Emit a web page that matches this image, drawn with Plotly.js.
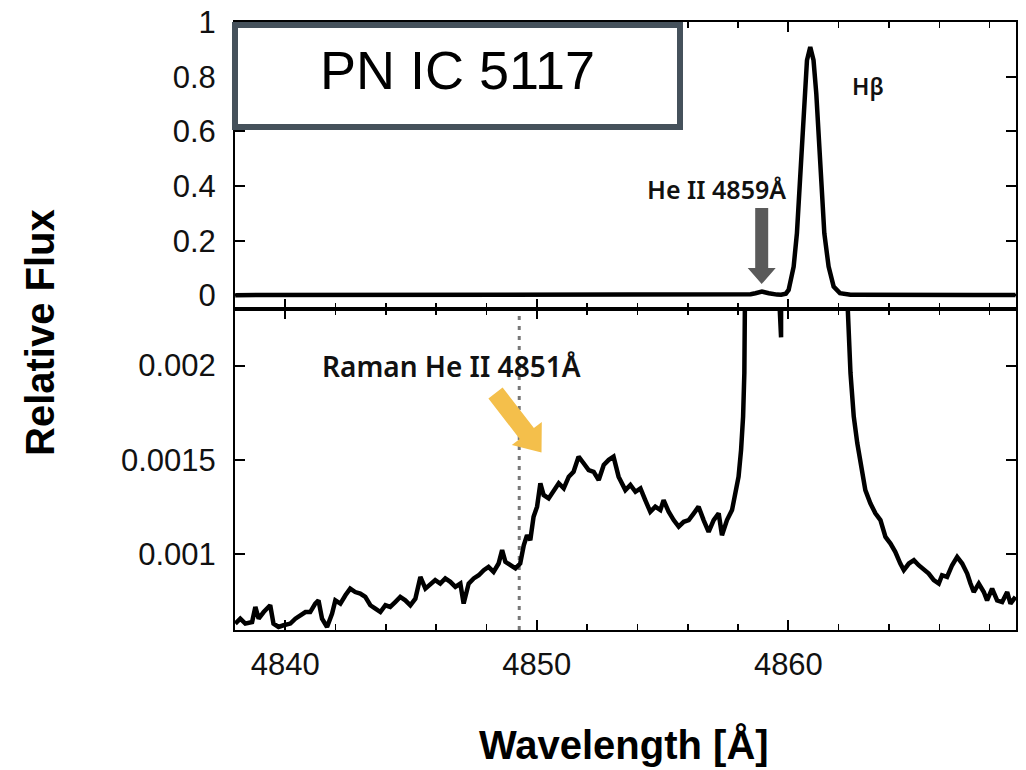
<!DOCTYPE html>
<html>
<head>
<meta charset="utf-8">
<script src="https://cdn.plot.ly/plotly-3.0.1.min.js"></script>
<style>html,body{margin:0;padding:0;background:#fff;}#chart{width:1026px;height:770px;}</style>
</head>
<body>
<div id="chart"></div>
<script>
// Wavelength [Å]
const wavelength = [
4838.01,4838.21,4838.41,4838.68,4838.81,4838.94,4839.14,4839.40,4839.53,4839.73,4839.93,
4840.20,4840.40,4840.60,4840.80,4840.99,4841.19,4841.32,4841.46,4841.66,4841.86,4841.99,
4842.19,4842.39,4842.58,4842.78,4842.98,4843.18,4843.38,4843.58,4843.78,4843.98,4844.17,
4844.37,4844.57,4844.77,4844.97,4845.17,4845.37,4845.57,4845.77,4845.96,4846.16,4846.36,
4846.56,4846.76,4846.96,4847.09,4847.29,4847.49,4847.69,4847.89,4848.08,4848.28,4848.48,
4848.62,4848.75,4848.95,4849.15,4849.34,4849.48,4849.61,4849.74,4849.87,4850.01,4850.14,
4850.27,4850.47,4850.67,4850.87,4851.07,4851.27,4851.46,4851.66,4851.86,4852.06,4852.26,
4852.46,4852.66,4852.86,4853.05,4853.25,4853.52,4853.72,4853.92,4854.12,4854.31,4854.51,
4854.71,4854.91,4855.04,4855.24,4855.44,4855.64,4855.84,4856.04,4856.24,4856.43,4856.63,
4856.83,4857.03,4857.23,4857.36,4857.56,4857.76,4857.89,4858.02,4858.12,4858.20,4858.25,
4858.30,4858.36,4858.50,4858.69,4858.95,4859.22,4859.42,4859.55,4859.71,4859.81,4859.90,
4860.01,4860.21,4860.34,4860.45,4860.54,4860.64,4860.74,4860.87,4861.00,4861.11,4861.20,
4861.30,4861.43,4861.60,4861.80,4862.05,4862.20,4862.33,4862.47,4862.60,4862.74,4862.86,
4863.06,4863.26,4863.46,4863.66,4863.86,4864.06,4864.25,4864.45,4864.59,4864.79,4864.99,
4865.18,4865.38,4865.58,4865.78,4865.98,4866.11,4866.31,4866.51,4866.71,4866.91,4867.11,
4867.24,4867.37,4867.57,4867.77,4867.90,4868.10,4868.30,4868.50,4868.70,4868.83,4869.03
];
// Relative flux
const flux = [
0.000634,0.000660,0.000634,0.000642,0.000722,0.000660,0.000695,0.000731,0.000634,0.000616,0.000625,
0.000634,0.000660,0.000678,0.000695,0.000695,0.000740,0.000757,0.000660,0.000616,0.000687,0.000757,
0.000740,0.000784,0.000819,0.000801,0.000793,0.000775,0.000731,0.000713,0.000695,0.000731,0.000722,
0.000748,0.000775,0.000757,0.000731,0.000766,0.000881,0.000819,0.000846,0.000864,0.000846,0.000873,
0.000855,0.000828,0.000846,0.000740,0.000846,0.000873,0.000890,0.000917,0.000934,0.000908,0.000952,
0.001023,0.000961,0.000943,0.000926,0.000952,0.001049,0.001102,0.001076,0.001200,0.001253,0.001377,
0.001315,0.001297,0.001341,0.001377,0.001350,0.001412,0.001438,0.001518,0.001483,0.001447,0.001438,
0.001394,0.001474,0.001501,0.001518,0.001412,0.001341,0.001368,0.001332,0.001350,0.001288,0.001226,
0.001253,0.001235,0.001288,0.001226,0.001182,0.001147,0.001173,0.001182,0.001218,0.001253,0.001182,
0.001120,0.001182,0.001218,0.001102,0.001182,0.001235,0.001324,0.001412,0.001554,0.001730,0.001961,
0.002191,0.002400,0.0040,0.0077,0.0135,0.0077,0.0035,0.0026,0.00215,0.0026,0.0060,
0.0197,0.105,0.227,0.410,0.593,0.739,0.861,0.909,0.861,0.739,0.593,
0.410,0.227,0.105,0.032,0.0080,0.0045,0.0024,0.001961,0.001730,0.001589,0.001483,
0.001341,0.001271,0.001218,0.001182,0.001093,0.001058,0.001014,0.000952,0.000917,0.000952,0.000970,
0.000943,0.000917,0.000899,0.000864,0.000846,0.000890,0.000881,0.000943,0.000987,0.000952,0.000899,
0.000846,0.000801,0.000846,0.000801,0.000757,0.000819,0.000757,0.000748,0.000801,0.000740,0.000775
];

// tick positions (labels: 0 … 1, 0.001 / 0.0015 / 0.002, 4840 / 4850 / 4860)
const topYTicks = [0, 0.2, 0.4, 0.6, 0.8, 1];
const bottomYTicks = [0.001, 0.0015, 0.002];
const xMajorTicks = [4840, 4850, 4860];
const xMinorStep = 2;
const ramanLine = 4849.3;

// pixel -> paper helpers (plot area: x 235..1016, y 22..630)
const L = 235, R = 1016, T = 22, B = 630;
const px = x => (x - L) / (R - L);
const py = y => (B - y) / (B - T);
const path = pts => 'M ' + pts.map(p => px(p[0]).toFixed(5) + ' ' + py(p[1]).toFixed(5)).join(' L ') + ' Z';

const tickFont = {family: 'Liberation Sans, Arial, sans-serif', size: 31, color: '#111'};
const common = {
  showline: true, linecolor: '#000', linewidth: 2, mirror: 'ticks',
  ticks: 'inside', ticklen: 10, tickwidth: 2, tickcolor: '#000',
  showgrid: false, zeroline: false, tickfont: tickFont, tickmode: 'linear'
};

const traces = [
  {x: wavelength, y: flux, xaxis: 'x2', yaxis: 'y2', mode: 'lines',
   line: {color: '#000', width: 4.5}, hoverinfo: 'skip'},
  {x: wavelength, y: flux, xaxis: 'x', yaxis: 'y', mode: 'lines',
   line: {color: '#000', width: 4.5}, hoverinfo: 'skip'}
];

const xcommon = Object.assign({}, common, {
  range: [4838, 4869.05], tick0: xMajorTicks[0], dtick: xMajorTicks[1] - xMajorTicks[0],
  minor: {dtick: xMinorStep, tick0: xMajorTicks[0], ticks: 'inside', ticklen: 6, tickwidth: 1.5,
          tickcolor: '#000', showgrid: false}
});

const layout = {
  width: 1026, height: 770,
  margin: {l: L, r: 1026 - R, t: T, b: 770 - B},
  paper_bgcolor: '#fff', plot_bgcolor: '#fff',
  showlegend: false,
  xaxis: Object.assign({}, xcommon, {domain: [0, 1], anchor: 'y', ticklabelstandoff: 6}),
  xaxis2: Object.assign({}, xcommon, {domain: [0, 1], anchor: 'y2', matches: 'x', showticklabels: false}),
  yaxis: Object.assign({}, common, {domain: [0, 0.528], anchor: 'x', range: [0.0006, 0.0023],
    tick0: bottomYTicks[0], dtick: 0.0005, ticklabelstandoff: 11}),
  yaxis2: Object.assign({}, common, {domain: [0.528, 1], anchor: 'x2', range: [-0.05, 1.001],
    tick0: topYTicks[0], dtick: 0.2, ticklabelstandoff: 11}),
  shapes: [
    {type: 'line', xref: 'x', yref: 'y domain', x0: ramanLine, x1: ramanLine, y0: 0, y1: 1,
     line: {color: '#777', width: 3, dash: '4px,6px'}, layer: 'below'},
    {type: 'rect', xref: 'paper', yref: 'paper', x0: px(235), x1: px(680), y0: py(127), y1: py(25),
     line: {color: '#45515b', width: 6}, fillcolor: '#fff', layer: 'above'},
    {type: 'path', xref: 'paper', yref: 'paper', layer: 'above', line: {width: 0},
     fillcolor: '#5a5a5a',
     path: path([[755.2, 208], [768.2, 208], [768.2, 268], [775.7, 268], [761.7, 284], [747.7, 268], [755.2, 268]])},
    {type: 'path', xref: 'paper', yref: 'paper', layer: 'above', line: {width: 0},
     fillcolor: '#F4BF4B',
     path: path([[502.6, 387.5], [533.9, 428.0], [541.8, 421.9], [541.5, 452.5], [511.8, 445.1], [519.7, 439.0], [488.4, 398.5]])}
  ],
  annotations: [
    {text: 'PN IC 5117', xref: 'paper', yref: 'paper', x: px(457), y: py(70), showarrow: false,
     xanchor: 'center', yanchor: 'middle',
     font: {family: 'Liberation Sans, Arial, sans-serif', size: 54, color: '#000'}},
    {text: 'Hβ', xref: 'paper', yref: 'paper', x: px(868), y: py(86), showarrow: false,
     xanchor: 'center', yanchor: 'middle',
     font: {family: 'Noto Sans, sans-serif', size: 23, color: '#111', weight: 600}},
    {text: 'He II 4859Å', xref: 'paper', yref: 'paper', x: px(716.7), y: py(189), showarrow: false,
     xanchor: 'center', yanchor: 'middle',
     font: {family: 'Noto Sans, sans-serif', size: 25, color: '#111', weight: 600}},
    {text: 'Raman He II 4851Å', xref: 'paper', yref: 'paper', x: px(451), y: py(366), showarrow: false,
     xanchor: 'center', yanchor: 'middle',
     font: {family: 'Noto Sans, sans-serif', size: 28, color: '#111', weight: 600}},
    {text: 'Relative Flux', xref: 'paper', yref: 'paper', x: px(40), y: py(333), showarrow: false,
     textangle: -90, xanchor: 'center', yanchor: 'middle',
     font: {family: 'Liberation Sans, Arial, sans-serif', size: 40, color: '#000', weight: 700}},
    {text: 'Wavelength [Å]', xref: 'paper', yref: 'paper', x: px(624), y: py(745), showarrow: false,
     xanchor: 'center', yanchor: 'middle',
     font: {family: 'Liberation Sans, Arial, sans-serif', size: 40, color: '#000', weight: 700}}
  ]
};

Plotly.newPlot('chart', traces, layout, {displayModeBar: false, staticPlot: true});
</script>
</body>
</html>
